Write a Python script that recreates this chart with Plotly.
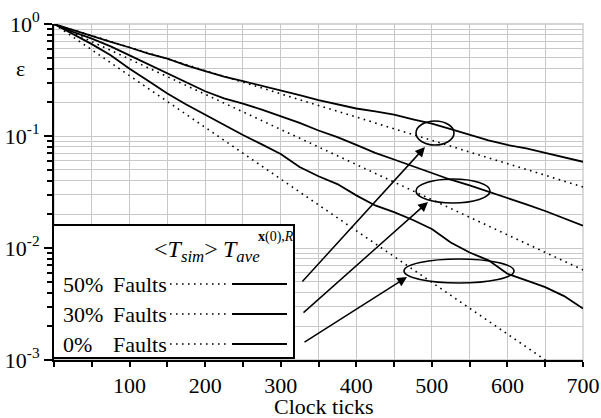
import plotly.graph_objects as go

# ---------------- data ----------------
x_solid = [0, 25, 50, 75, 100, 125, 150, 175, 200, 225, 250, 275, 300, 325, 350,
           375, 400, 425, 450, 475, 500, 525, 550, 575, 600, 625, 650, 675, 700]
ave_50 = [1.0, 0.881, 0.776, 0.692, 0.617, 0.543, 0.490, 0.427, 0.380, 0.339, 0.309,
          0.282, 0.257, 0.232, 0.209, 0.191, 0.176, 0.166, 0.155, 0.141, 0.129, 0.115,
          0.102, 0.0912, 0.0832, 0.0776, 0.0708, 0.0646, 0.0589]
ave_30 = [1.0, 0.851, 0.741, 0.631, 0.525, 0.437, 0.363, 0.302, 0.251, 0.217, 0.195,
          0.172, 0.150, 0.131, 0.112, 0.0977, 0.0832, 0.0708, 0.0617, 0.0537, 0.0468,
          0.0407, 0.0363, 0.0320, 0.0282, 0.0245, 0.0214, 0.0184, 0.0158]
ave_0 = [1.0, 0.813, 0.661, 0.525, 0.398, 0.309, 0.240, 0.191, 0.155, 0.125, 0.102,
         0.0841, 0.0692, 0.0528, 0.0437, 0.0372, 0.0295, 0.0240, 0.0209, 0.0178, 0.0148,
         0.0112, 0.00912, 0.00776, 0.00589, 0.00513, 0.00447, 0.00372, 0.00288]

x_dot = [0, 50, 100, 150, 200, 250, 300, 350, 400, 450, 500, 550, 600, 650, 700]
sim_50 = [1.0, 0.787, 0.619, 0.488, 0.384, 0.302, 0.238, 0.187, 0.147, 0.116, 0.0914,
          0.0719, 0.0566, 0.0446, 0.0351]
sim_30 = [1.0, 0.697, 0.485, 0.338, 0.236, 0.164, 0.115, 0.0798, 0.0556, 0.0387,
          0.0270, 0.0188, 0.0131, 0.00914, 0.00637]
sim_0 = [1.0, 0.588, 0.345, 0.203, 0.119, 0.0702, 0.0412, 0.0243, 0.0143, 0.00838,
         0.00492, 0.00290, 0.00170, 0.00100, 0.000589]

x_ticks = [100, 200, 300, 400, 500, 600, 700]
y_ticks = [1, 0.1, 0.01, 0.001]
y_ticktext = ["10<sup>0</sup>", "10<sup>-1</sup>", "10<sup>-2</sup>", "10<sup>-3</sup>"]
legend_pct = ["50%", "30%", "0%"]

# ---------------- figure ----------------
FONT = "Liberation Serif, serif"
W, H = 601, 418
L, R, T, B = 54, 583, 24, 360

def px(xp):
    return (xp - L) / (R - L)

def py(yp):
    return (B - yp) / (B - T)

def dx(xp):
    return (xp - L) / (R - L) * 700

def dy(yp):
    return -(yp - T) / (B - T) * 3

fig = go.Figure()
dotted = dict(color="black", width=1.6, dash="1.6px,4.4px")
solid = dict(color="black", width=1.8)
for ys in (sim_50, sim_30, sim_0):
    fig.add_trace(go.Scatter(x=x_dot, y=ys, mode="lines", line=dotted,
                             showlegend=False, hoverinfo="skip"))
for ys in (ave_50, ave_30, ave_0):
    fig.add_trace(go.Scatter(x=x_solid, y=ys, mode="lines", line=solid,
                             showlegend=False, hoverinfo="skip"))

grid = "#c8c8c8"
fig.update_xaxes(range=[0, 700], tickvals=x_ticks, ticktext=[str(v) for v in x_ticks],
                 showgrid=True, gridcolor=grid, gridwidth=1.3, automargin=False,
                 showline=True, linecolor="black", linewidth=2,
                 ticks="outside", ticklen=5, tickwidth=1.5, tickcolor="black",
                 minor=dict(dtick=50, tick0=0, showgrid=True, gridcolor=grid, gridwidth=1,
                            ticks="outside", ticklen=5, tickwidth=1.5, tickcolor="black"),
                 tickfont=dict(family=FONT, size=22, color="black"),
                 zeroline=False, mirror=False)

minor_y = []
for d in (1, 0.1, 0.01):
    for k in range(2, 10):
        minor_y.append(round(k * d / 10, 6))
fig.update_yaxes(type="log", range=[-3, 0], tickvals=y_ticks, ticktext=y_ticktext,
                 showgrid=True, gridcolor=grid, gridwidth=1.3, automargin=False,
                 showline=True, linecolor="black", linewidth=2,
                 ticks="outside", ticklen=8, tickwidth=1.5, tickcolor="black",
                 minor=dict(tickvals=minor_y, showgrid=True, gridcolor=grid, gridwidth=1,
                            ticks="outside", ticklen=5, tickwidth=1.5, tickcolor="black"),
                 tickfont=dict(family=FONT, size=22, color="black"),
                 zeroline=False, mirror=False)

shapes = []
shapes.append(dict(type="rect", xref="paper", yref="paper", x0=0, x1=1, y0=0, y1=1,
                   line=dict(color=grid, width=1.3), layer="below"))
for (cx, cy, hw, hh) in [(435, 133, 19, 12), (453, 191, 37, 12), (459, 271, 55, 12)]:
    shapes.append(dict(type="circle", xref="x", yref="y",
                       x0=dx(cx - hw), x1=dx(cx + hw),
                       y0=10 ** dy(cy + hh), y1=10 ** dy(cy - hh),
                       line=dict(color="black", width=1.6), layer="above"))
shapes.append(dict(type="rect", xref="paper", yref="paper",
                   x0=px(53), x1=px(294), y0=py(358), y1=py(225),
                   line=dict(color="black", width=2), fillcolor="white", layer="above"))
row_y = [284, 314, 344]
for ry in row_y:
    shapes.append(dict(type="line", xref="paper", yref="paper",
                       x0=px(170), x1=px(226), y0=py(ry), y1=py(ry),
                       line=dict(color="black", width=1.6, dash="1.6px,4.4px"), layer="above"))
    shapes.append(dict(type="line", xref="paper", yref="paper",
                       x0=px(232), x1=px(287), y0=py(ry), y1=py(ry),
                       line=dict(color="black", width=1.8), layer="above"))
fig.update_layout(shapes=shapes)

ann = []
tf = dict(family=FONT, size=22, color="black")
for lab, ry in zip(legend_pct, row_y):
    ann.append(dict(text=lab, xref="paper", yref="paper", x=px(61), y=py(ry),
                    xanchor="left", yanchor="middle", showarrow=False, font=tf))
    ann.append(dict(text="Faults", xref="paper", yref="paper", x=px(111), y=py(ry),
                    xanchor="left", yanchor="middle", showarrow=False, font=tf))
big = dict(family=FONT, size=24, color="black")
small = dict(family=FONT, size=14, color="black")
ann.append(dict(text="&lt;<i>T</i><sub><i>sim</i></sub>&gt;",
                xref="paper", yref="paper", x=px(152), y=py(251),
                xanchor="left", yanchor="middle", showarrow=False, font=big))
ann.append(dict(text="<i>T</i><sub><i>ave</i></sub>",
                xref="paper", yref="paper", x=px(221), y=py(251),
                xanchor="left", yanchor="middle", showarrow=False, font=big))
ann.append(dict(text="<b>x</b>(0),<i>R</i>", xref="paper", yref="paper", x=px(256), y=py(237),
                xanchor="left", yanchor="middle", showarrow=False, font=small))
ann.append(dict(text="ε", xref="paper", yref="paper", x=px(20), y=py(68),
                xanchor="center", yanchor="middle", showarrow=False, font=tf))
ann.append(dict(text="Clock ticks", xref="paper", yref="paper", x=px(324), y=py(406),
                xanchor="center", yanchor="middle", showarrow=False, font=tf))
for (tx, ty, hx, hy) in [(301, 283, 425, 147), (302, 314, 428, 202), (303, 343, 407, 277)]:
    ann.append(dict(x=dx(hx), y=dy(hy), ax=dx(tx), ay=dy(ty), xref="x", yref="y",
                    axref="x", ayref="y", text="", showarrow=True, arrowhead=2,
                    arrowsize=1.3, arrowwidth=1.5, arrowcolor="black"))
fig.update_layout(annotations=ann)

fig.update_layout(width=W, height=H, margin=dict(l=L, r=W - R, t=T, b=H - B),
                  paper_bgcolor="white", plot_bgcolor="white",
                  font=dict(family=FONT, color="black"), showlegend=False)

fig.write_html("out.html", config={"displayModeBar": False},
               post_script="document.body.style.margin='0';document.body.style.overflow='hidden';")
